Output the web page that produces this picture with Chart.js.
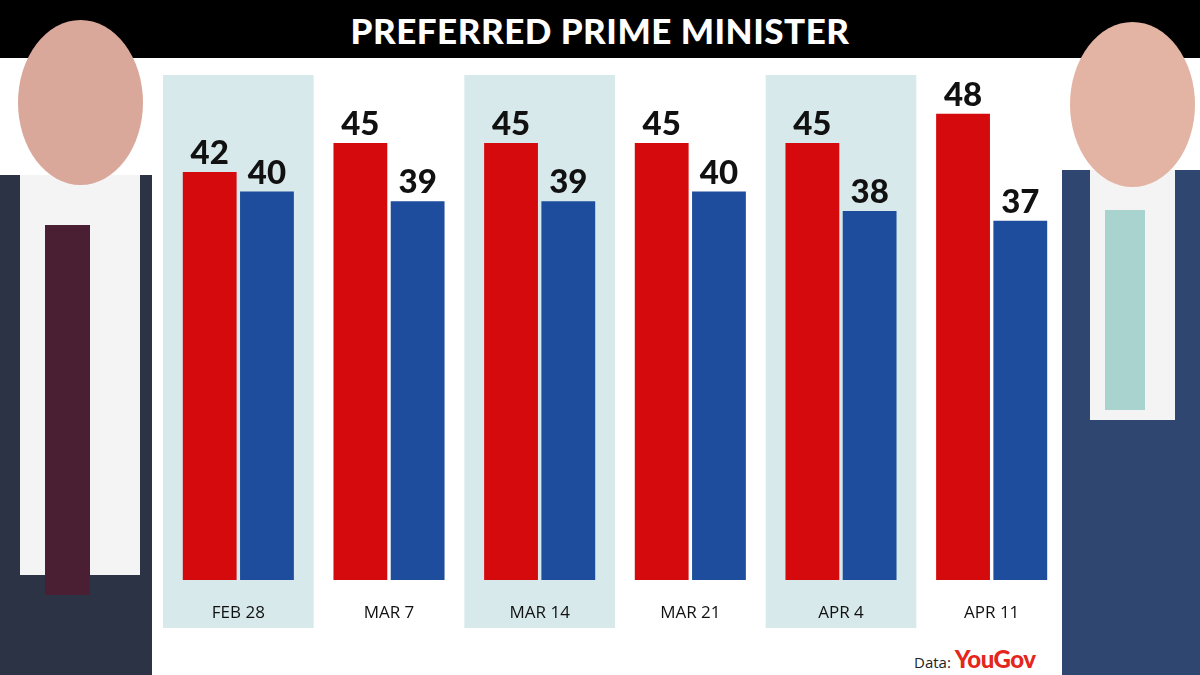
<!DOCTYPE html>
<html><head><meta charset="utf-8">
<script src="https://cdn.jsdelivr.net/npm/chart.js@4"></script>
<style>
body{margin:0;width:1200px;height:675px;background:#fff;position:relative;overflow:hidden;font-family:Lato,"Open Sans",sans-serif}
#title{position:absolute;left:0;top:0;width:1200px;height:58px;background:#000;color:#fff;font:900 35px Lato,sans-serif;text-align:center;line-height:60px;letter-spacing:0.5px}
#wrap{position:absolute;left:163px;top:75px;width:904px;height:553px}
#src{position:absolute;left:914px;top:644px;font:15px "Open Sans",sans-serif;color:#222}
#src b{color:#e4261c;font:900 24px Lato,sans-serif;letter-spacing:-0.5px}
.p{position:absolute;background:#2a3550}
.h{position:absolute;border-radius:50%;background:#d9a89a}
.s{position:absolute;background:#f4f4f4}
</style></head><body>
<div id="title">PREFERRED PRIME MINISTER</div>
<div class="p" style="left:0;top:175px;width:152px;height:500px;background:#2b3345"></div>
<div class="s" style="left:20px;top:175px;width:120px;height:400px"></div>
<div class="p" style="left:45px;top:225px;width:45px;height:370px;background:#4a1f33"></div>
<div class="h" style="left:18px;top:20px;width:125px;height:165px"></div>
<div class="p" style="left:1062px;top:170px;width:138px;height:505px;background:#2f4670"></div>
<div class="s" style="left:1090px;top:170px;width:85px;height:250px"></div>
<div class="p" style="left:1105px;top:210px;width:40px;height:200px;background:#a9d3cf"></div>
<div class="h" style="left:1070px;top:22px;width:125px;height:165px;background:#e3b4a3"></div>
<div id="wrap"><canvas id="c"></canvas></div>
<div id="src">Data: <b>YouGov</b></div>
<script>
const categories=["FEB 28","MAR 7","MAR 14","MAR 21","APR 4","APR 11"];
const albanese=[42,45,45,45,45,48];
const dutton=[40,39,39,40,38,37];
const bands={id:'bands',beforeDraw(ch){const c=ch.ctx,x=ch.scales.x;c.save();c.fillStyle='#d8e9ec';
 for(let i=0;i<categories.length;i+=2){const w=(x.right-x.left)/categories.length;c.fillRect(x.left+i*w,0,w,ch.height);}c.restore();}};
const labels={id:'labels',afterDatasetsDraw(ch){const c=ch.ctx;c.save();c.font='900 33px Lato, sans-serif';c.fillStyle='#111';c.textAlign='center';c.textBaseline='bottom';
 ch.data.datasets.forEach((d,di)=>ch.getDatasetMeta(di).data.forEach((b,i)=>c.fillText(d.data[i],b.x,b.y-2)));c.restore();}};
new Chart(document.getElementById('c'),{type:'bar',
data:{labels:categories,datasets:[{data:albanese,backgroundColor:'#d40a0d'},{data:dutton,backgroundColor:'#1d4d9c'}]},
options:{responsive:true,maintainAspectRatio:false,animation:false,
 layout:{padding:0},
 datasets:{bar:{categoryPercentage:0.76,barPercentage:0.94}},
 plugins:{legend:{display:false},tooltip:{enabled:false}},
 scales:{y:{display:false,min:0,max:52},
  x:{grid:{display:false},border:{display:false},ticks:{color:'#111',font:{size:17,family:'"Open Sans", sans-serif'},padding:15},afterFit(s){s.height=48;}}}},
plugins:[bands,labels]});
</script></body></html>
